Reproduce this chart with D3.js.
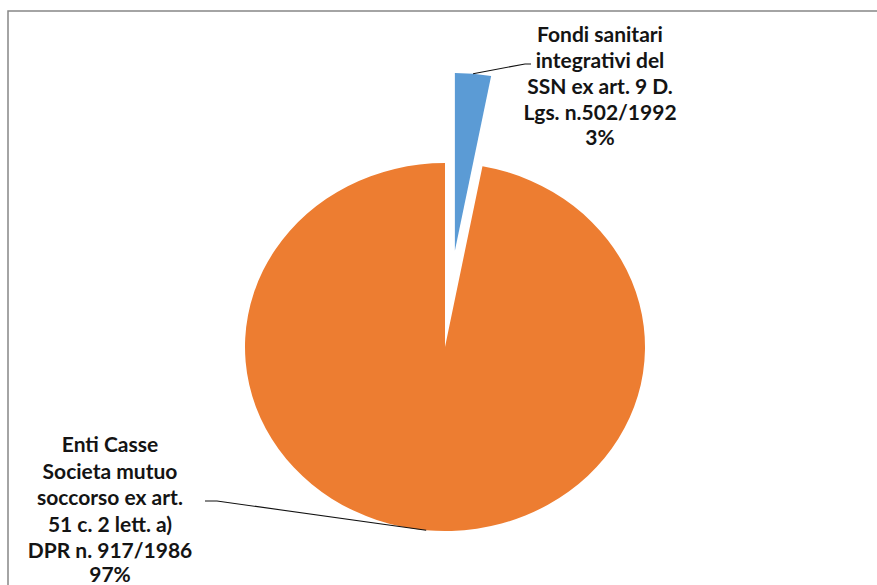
<!DOCTYPE html>
<html>
<head>
<meta charset="utf-8">
<script src="https://cdn.jsdelivr.net/npm/d3@7"></script>
<style>
  html, body { margin: 0; padding: 0; background: #ffffff; }
  svg { display: block; }
</style>
</head>
<body>
<svg id="chart" width="877" height="585"></svg>
<script>
// ---- data ----
const categories = [
  "Fondi sanitari integrativi del SSN ex art. 9 D. Lgs. n.502/1992",
  "Enti Casse Societa mutuo soccorso ex art. 51 c. 2 lett. a) DPR n. 917/1986"
];
const values = [3, 97];
const percentLabels = ["3%", "97%"];
const labelLines = [
  ["Fondi sanitari", "integrativi del", "SSN ex art. 9 D.", "Lgs. n.502/1992"],
  ["Enti Casse", "Societa mutuo", "soccorso ex art.", "51 c. 2 lett. a)", "DPR n. 917/1986"]
];
const colors = ["#5B9BD5", "#ED7D31"];

// ---- layout ----
const W = 877, H = 585;
const cx = 445, cy = 347, R = 200, yScale = 0.92;
const explode = [105, 0];
const radiusFactor = [0.967, 1];
const labelPos = [
  { x: 600, y: 42, lh: 26, pctGap: 24.5 },
  { x: 110, y: 452, lh: 26.5, pctGap: 23.5 }
];

const svg = d3.select("#chart");

// outer frame
svg.append("rect")
  .attr("x", 8).attr("y", 11)
  .attr("width", W + 20).attr("height", H + 20)
  .attr("fill", "#ffffff")
  .attr("stroke", "#878787")
  .attr("stroke-width", 1.5);

const pie = d3.pie().sort(null).value(d => d)(values);

const g = svg.append("g")
  .attr("transform", `translate(${cx},${cy}) scale(1,${yScale})`);

function offset(d, i) {
  const mid = (d.startAngle + d.endAngle) / 2;
  return [explode[i] * Math.sin(mid), -explode[i] * Math.cos(mid)];
}

g.selectAll("path.slice")
  .data(pie)
  .join("path")
  .attr("class", "slice")
  .attr("d", (d, i) => d3.arc().innerRadius(0).outerRadius(R * radiusFactor[i])(d))
  .attr("transform", (d, i) => { const o = offset(d, i); return `translate(${o[0]},${o[1]})`; })
  .attr("fill", (d, i) => colors[i]);

// leader start points on the outer arc at mid angle (screen coords)
function arcPoint(d, i) {
  const mid = (d.startAngle + d.endAngle) / 2;
  const o = offset(d, i);
  const r = R * radiusFactor[i];
  return [cx + o[0] + r * Math.sin(mid), cy + (o[1] - r * Math.cos(mid)) * yScale];
}

const leaderEnds = [
  [[525, 64], [531, 64]],
  [[217, 501], [205, 501]]
];

const line = d3.line();
pie.forEach((d, i) => {
  const p0 = arcPoint(d, i);
  svg.append("path")
    .attr("d", line([p0, ...leaderEnds[i]]))
    .attr("fill", "none")
    .attr("stroke", "#111")
    .attr("stroke-width", 1.1);
});

// labels
pie.forEach((d, i) => {
  const lp = labelPos[i];
  const lines = labelLines[i];
  const t = svg.append("text")
    .attr("text-anchor", "middle")
    .attr("font-family", "Lato, 'Open Sans', sans-serif")
    .attr("font-weight", "bold")
    .attr("font-size", 21)
    .attr("fill", "#141414");
  lines.forEach((s, k) => {
    t.append("tspan").attr("x", lp.x).attr("y", lp.y + k * lp.lh).text(s);
  });
  t.append("tspan")
    .attr("x", lp.x)
    .attr("y", lp.y + (lines.length - 1) * lp.lh + lp.pctGap)
    .text(percentLabels[i]);
});
</script>
</body>
</html>
